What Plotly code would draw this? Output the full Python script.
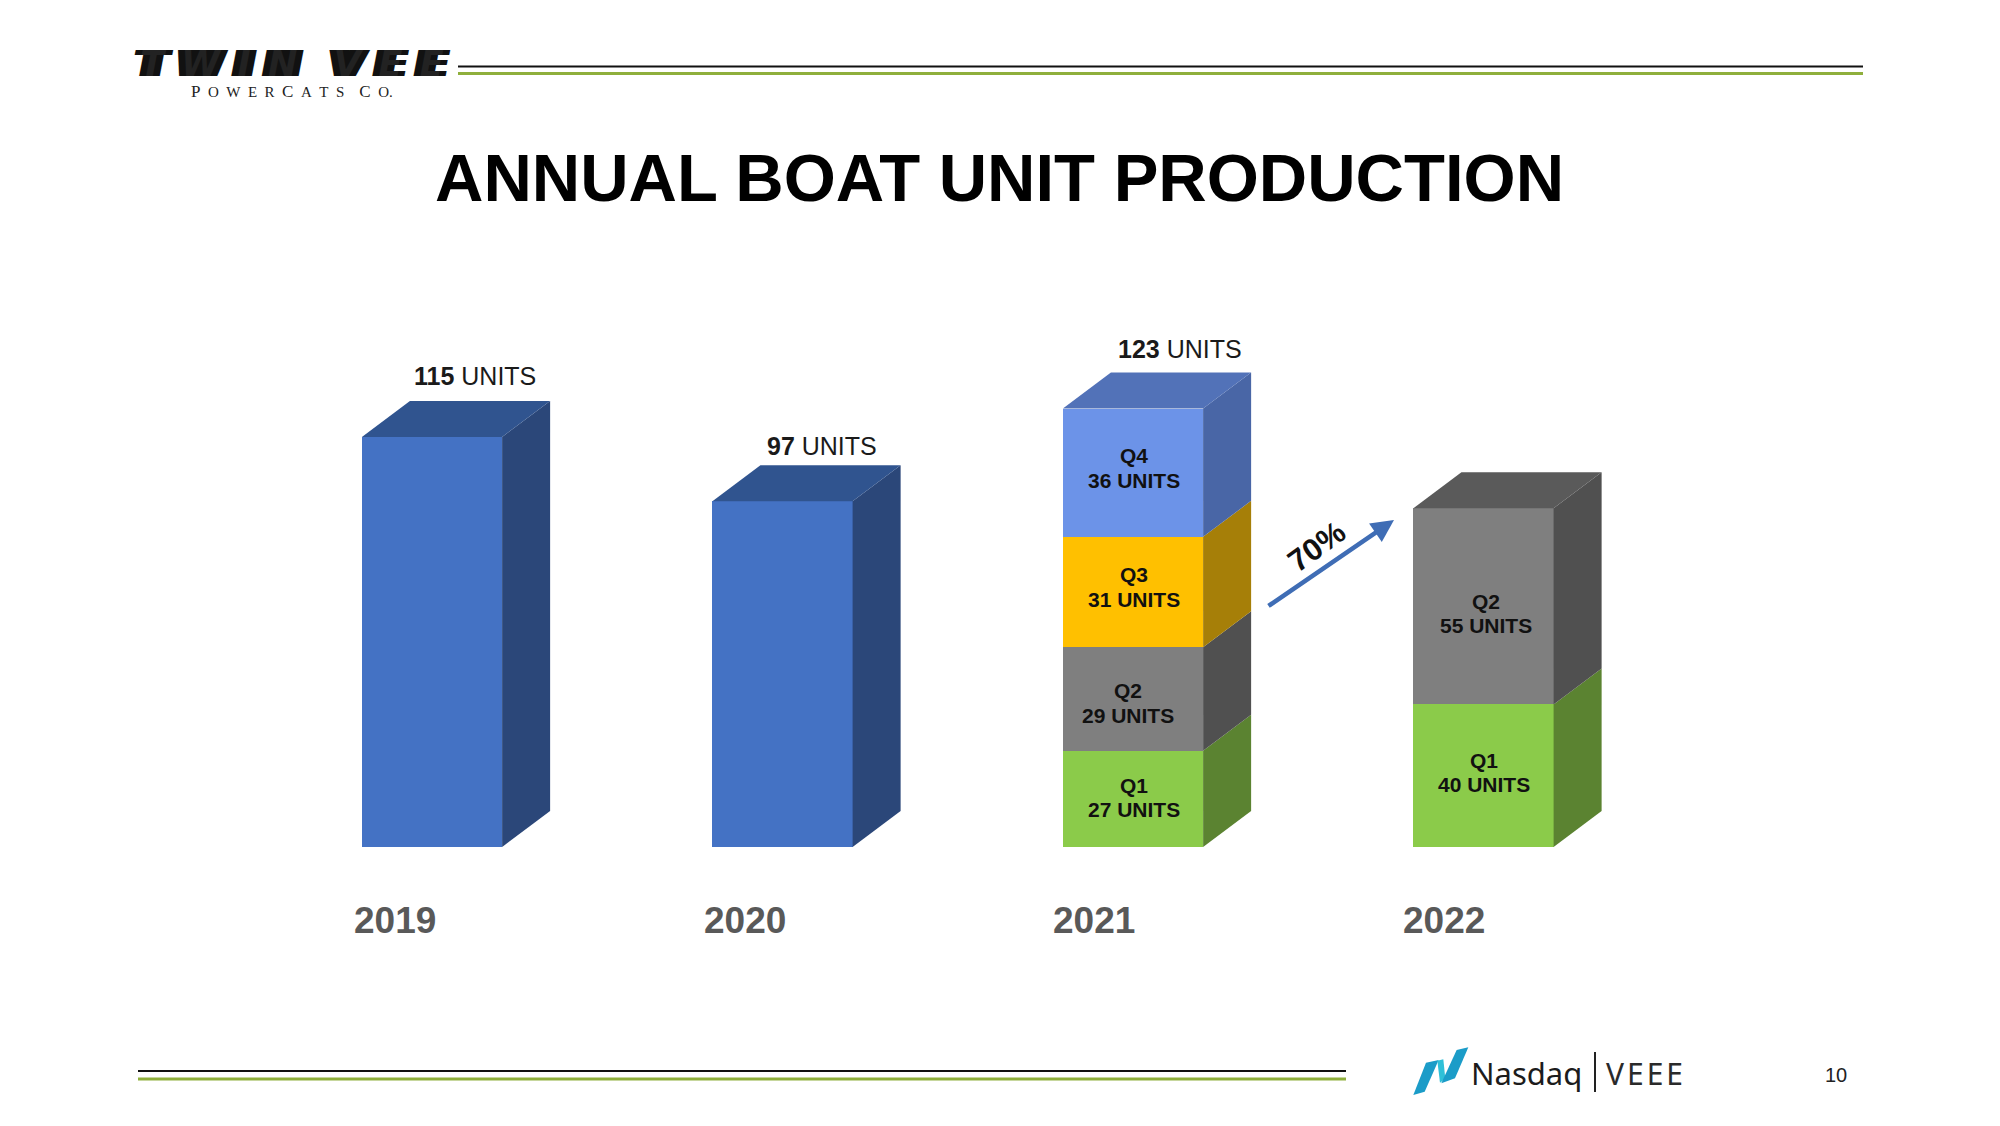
import plotly.graph_objects as go

W, H = 2000, 1126
PAD = 8                   # the page keeps its default 8 px body margin
PW, PH = W - 2 * PAD, H - 2 * PAD

# ---- data ----
years = ["2019", "2020", "2021", "2022"]
annual_units = [115, 97, None, None]
q1_units = [None, None, 27, 40]
q2_units = [None, None, 29, 55]
q3_units = [None, None, 31, None]
q4_units = [None, None, 36, None]
totals = [115, 97, 123, None]
growth_label = "70%"

# ---- styles ----
BAR_W = 0.4
DX, DY = 0.137, 10.1      # oblique depth of the 3-D boxes, axis units
series = [
    ("Annual", annual_units, "#4472C4", "#2B4779", "#30548F"),
    ("Q1", q1_units, "#8BCB4A", "#5B8331", "#5B8331"),
    ("Q2", q2_units, "#7F7F7F", "#505050", "#5A5A5A"),
    ("Q3", q3_units, "#FFC000", "#A67F08", "#A67F08"),
    ("Q4", q4_units, "#6C93E8", "#4966A6", "#5272B8"),
]

# axis scale: one year = 350.5 px, one unit = 3.565 px, first bar centred at x=432, baseline at y=847
PXX, PXY = 350.5, 3.565
x_range = [(PAD - 432) / PXX, (W - PAD - 432) / PXX]
y_range = [-(H - PAD - 847) / PXY, (847 - PAD) / PXY]

def px(x):
    return (x - PAD) / PW

def py(y):
    return 1 - (y - PAD) / PH

fig = go.Figure()
xs = list(range(len(years)))

for name, vals, front, side, top in series:
    fig.add_trace(go.Bar(x=xs, y=vals, name=name, width=BAR_W, marker=dict(color=front, line=dict(width=0)),
                         hoverinfo="skip"))

# side and top faces follow the same values
stack = [0.0] * len(years)
top_col = [None] * len(years)
for name, vals, front, side, top in series:
    for i, v in enumerate(vals):
        if v is None:
            continue
        r = i + BAR_W / 2
        y0, y1 = stack[i], stack[i] + v
        fig.add_trace(go.Scatter(x=[r, r + DX, r + DX, r, r], y=[y0, y0 + DY, y1 + DY, y1, y0],
                                 mode="lines", fill="toself", fillcolor=side, line=dict(width=0),
                                 hoverinfo="skip"))
        stack[i] = y1
        top_col[i] = top
for i in xs:
    l, r = i - BAR_W / 2, i + BAR_W / 2
    y = stack[i]
    fig.add_trace(go.Scatter(x=[l, r, r + DX, l + DX, l], y=[y, y, y + DY, y + DY, y],
                             mode="lines", fill="toself", fillcolor=top_col[i], line=dict(width=0),
                             hoverinfo="skip"))

ann = []

def text(x, y, s, size, color="#111111", bold=False, family="Liberation Sans", angle=0, **kw):
    ann.append(dict(x=px(x), y=py(y), xref="paper", yref="paper", text=f"<b>{s}</b>" if bold else s,
                    showarrow=False, xanchor=kw.pop("xanchor", "center"), yanchor="middle", textangle=angle,
                    font=dict(family=family, size=size, color=color)))

# title and totals
text(999, 177, "ANNUAL BOAT UNIT PRODUCTION", 67, "#000000", bold=True)
total_pos = [(474.5, 376), (821.5, 446), (1180, 349)]
for (x, y), t in zip(total_pos, totals):
    text(x, y, f"<b>{t}</b> UNITS", 25, "#1a1a1a")

# year labels
year_x = [395, 745, 1094, 1444]
for x, yr in zip(year_x, years):
    text(x, 920, yr, 37, "#595959", bold=True)

# segment labels
seg = [(1134, 455, "Q4"), (1134, 480, f"{q4_units[2]} UNITS"),
       (1134, 574, "Q3"), (1134, 599, f"{q3_units[2]} UNITS"),
       (1127.5, 690, "Q2"), (1127.5, 715.5, f"{q2_units[2]} UNITS"),
       (1134, 786, "Q1"), (1134, 810, f"{q1_units[2]} UNITS"),
       (1486, 601, "Q2"), (1486, 625, f"{q2_units[3]} UNITS"),
       (1484, 760, "Q1"), (1484, 784, f"{q1_units[3]} UNITS")]
for x, y, s in seg:
    text(x, y, s, 21, "#111111", bold=True)

# growth arrow
ann.append(dict(x=px(1394), y=py(520), ax=-127, ay=87, axref="pixel", ayref="pixel", xref="paper", yref="paper",
                text="", showarrow=True, arrowhead=2, arrowsize=1, arrowwidth=4.5,
                arrowcolor="#3F6DB5"))
text(1317, 547, growth_label, 31, "#111111", bold=True, angle=-36)

# logo: one text block of two lines
gap = "\u2009\u2009\u200a"
logo_top = gap.join("TWIN") + " " + gap + "\u2009" + gap.join("VEE")
logo_top_style = ("font-family:'DejaVu Sans';font-size:35px;font-weight:bold;font-style:italic;"
                  "text-shadow:2px 0 0 #111,-2px 0 0 #111,4px 0 0 #111,-4px 0 0 #111,"
                  "7px 0 0 #111,-7px 0 0 #111")
sp = "\u2002"
big = '<span style="font-size:17px">{}</span>'
small = '<span style="font-size:15px">{}</span>'
logo_sub = (big.format("P") + small.format(sp + sp.join("OWER") + sp) + big.format("C")
            + small.format(sp + sp.join("ATS") + "\u2003") + big.format("C") + small.format(sp + "O."))
ann.append(dict(x=px(292), y=py(73), xref="paper", yref="paper", showarrow=False, xanchor="center", yanchor="middle",
                text=f'<span style="{logo_top_style}">{logo_top}</span><br>{logo_sub}',
                font=dict(family="Liberation Serif", size=16, color="#222222")))

# footer
text(1469, 1073, "Nasdaq", 31, "#1c1c1c", family="Noto Sans", xanchor="left")
text(1604, 1073, "V\u200aE\u200aE\u200aE", 30, "#2a2a2a", family="Noto Sans", xanchor="left")
text(1836, 1075, "10", 20, "#222222")

shapes = []

def hline(x0, x1, y, color, w):
    shapes.append(dict(type="line", xref="paper", yref="paper", x0=px(x0), x1=px(x1), y0=py(y), y1=py(y),
                       line=dict(color=color, width=w)))

hline(458, 1863, 66.5, "#111111", 2)
hline(458, 1863, 73.5, "#8FAF3C", 3)
hline(138, 1346, 1071, "#111111", 2)
hline(138, 1346, 1079, "#8FAF3C", 3)
shapes.append(dict(type="line", xref="paper", yref="paper", x0=px(1595), x1=px(1595), y0=py(1052), y1=py(1092),
                   line=dict(color="#222222", width=2)))

# Nasdaq mark
def poly(pts, color):
    d = "M " + " L ".join(f"{px(1400 + x / 3):.5f} {py(1040 + y / 3):.5f}" for x, y in pts) + " Z"
    shapes.append(dict(type="path", xref="paper", yref="paper", path=d, fillcolor=color, line=dict(width=0)))

poly([(40, 165), (78, 68), (116, 60), (74, 155)], "#1B9CC8")
poly([(112, 62), (130, 58), (136, 116), (120, 128)], "#2FC0D8")
poly([(124, 130), (170, 30), (205, 22), (165, 115)], "#1B9CC8")

fig.update_layout(
    width=PW, height=PH, margin=dict(l=0, r=0, t=0, b=0), paper_bgcolor="white", plot_bgcolor="white",
    barmode="stack", showlegend=False, annotations=ann, shapes=shapes,
    xaxis=dict(range=x_range, visible=False, fixedrange=True),
    yaxis=dict(range=y_range, visible=False, fixedrange=True),
)
fig.write_html("out.html")
